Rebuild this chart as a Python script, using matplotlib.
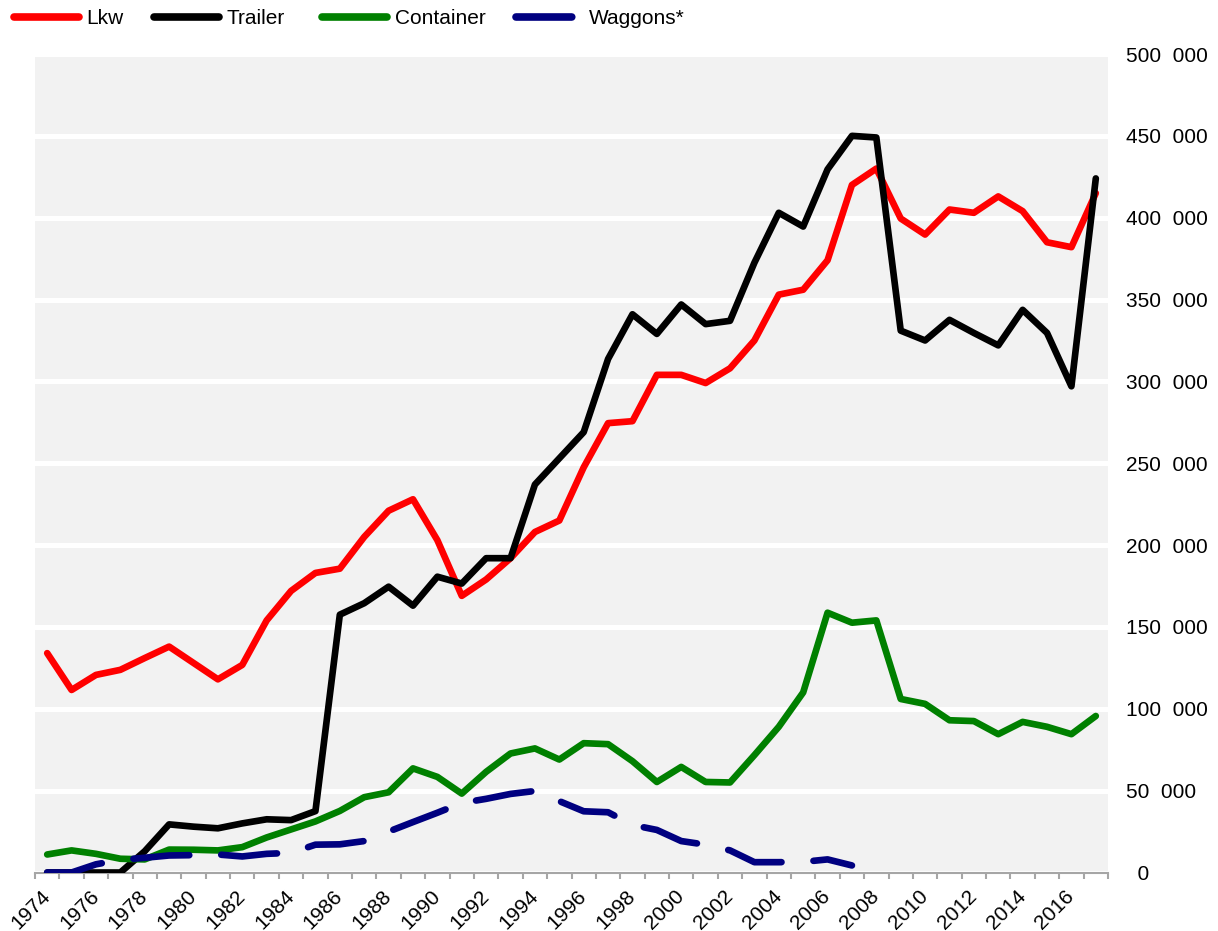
import numpy as np
import matplotlib
matplotlib.use('Agg')
import matplotlib.pyplot as plt
from matplotlib.lines import Line2D

plt.rcParams['font.family'] = ['Liberation Sans', 'DejaVu Sans']
plt.rcParams['font.size'] = 15

years = list(range(1974, 2018))

# values in thousands
lkw = [134, 111.5, 120.7, 123.8, 131, 138, 128, 118, 126.8, 154,
       172, 183, 185.6, 205, 221, 228, 203, 169, 179, 192,
       208, 215, 247.5, 274.5, 275.7, 304, 304, 299, 308, 325,
       353, 356, 374, 420, 430, 399.5, 389.7, 405, 403, 413,
       404, 385, 382, 415]
trailer = [0, 0, 0, 0, 13, 29.4, 28, 27, 30, 32.5,
           32, 37.5, 157.5, 164.5, 174.6, 163, 180.7, 176.5, 192, 192,
           237, 253, 269, 313.7, 341, 329, 347, 335, 337, 372.5,
           403, 394.6, 429.5, 450, 449, 331, 325, 337.6, 329.6, 322,
           343.7, 329.6, 297, 424]
container = [11, 13.5, 11.4, 8.4, 8, 14, 13.9, 13.5, 15.5, 21.4,
             26.3, 31.2, 37.6, 46, 49, 63.6, 58.4, 48.2, 61.5, 72.7,
             75.8, 69, 79, 78.4, 68, 55.3, 64.5, 55.3, 55, 71.7,
             89, 110, 158.7, 152.6, 154, 106, 103, 93, 92.5, 84.5,
             92, 89, 84.5, 95.6]
waggons = [0, 0, 5, 7.7, 9, 10.4, 10.6, 11, 9.8, 11.4,
           12, 17, 17.2, 19.2, 25, 30.8, 36.5, 42.5, 45, 48,
           49.8, 43.6, 37.4, 36.8, 29, 26, 19.2, 17, 13.5, 6.3,
           6.3, 6.5, 8, 4.3] + [np.nan] * 10

series = [('Lkw', lkw, '#ff0000'),
          ('Trailer', trailer, '#000000'),
          ('Container', container, '#008000'),
          ('Waggons*', waggons, '#000080')]

fig = plt.figure(figsize=(12.18, 9.31), dpi=100)
ax = fig.add_axes([35 / 1218, 58.5 / 931, 1073 / 1218, 818.5 / 931])
ax.set_facecolor('#f2f2f2')

x = np.arange(len(years))
lw = 4.8
dash = (8.4, 4.8)
for name, vals, col in series:
    y = np.array(vals, dtype=float) * 1000
    if name == 'Waggons*':
        ax.plot(x, y, color=col, lw=lw, dashes=dash, dash_capstyle='round',
                dash_joinstyle='round', zorder=3)
    else:
        ax.plot(x, y, color=col, lw=lw, solid_capstyle='round',
                solid_joinstyle='round', zorder=3)

ax.set_xlim(-0.5, len(years) - 0.5)
ax.set_ylim(0, 500000)

# white grid on grey
yt = np.arange(0, 500001, 50000)
ax.set_yticks(yt)
ax.grid(axis='y', color='white', lw=3.6, zorder=1)
ax.set_axisbelow(True)
ax.yaxis.tick_right()
ax.set_yticklabels(['  0' if v == 0 else '%d  000' % (v // 1000) for v in yt], ha='left')
ax.tick_params(axis='y', length=0, pad=13)

# category axis: ticks between categories, labels every 2nd year
ax.set_xticks(np.arange(-0.5, len(years)), minor=True)
ax.set_xticks(x[::2])
ax.set_xticklabels([str(yr) for yr in years[::2]], rotation=45, ha='right',
                   va='center', rotation_mode='anchor')
ax.tick_params(axis='x', which='major', length=0, pad=15)
ax.tick_params(axis='x', which='minor', length=4, width=1.5, color='#a6a6a6')

for s in ['top', 'right', 'left']:
    ax.spines[s].set_visible(False)
ax.spines['bottom'].set_color('#a6a6a6')
ax.spines['bottom'].set_linewidth(1.5)

# legend entries placed one by one like the original
leg_x = [14, 154, 322, 516]
for (name, vals, col), lx in zip(series, leg_x):
    if name == 'Waggons*':
        h = Line2D([], [], color=col, lw=5.5, dashes=(7.3, 5), dash_capstyle='round')
    else:
        h = Line2D([], [], color=col, lw=5.5, solid_capstyle='round')
    fig.legend([h], [name], loc='center left', bbox_to_anchor=(lx / 1218, 1 - 19 / 931),
               frameon=False, handlelength=3.1, handletextpad=0.38, borderpad=0,
               borderaxespad=0)

fig.savefig('out.png', dpi=100)
